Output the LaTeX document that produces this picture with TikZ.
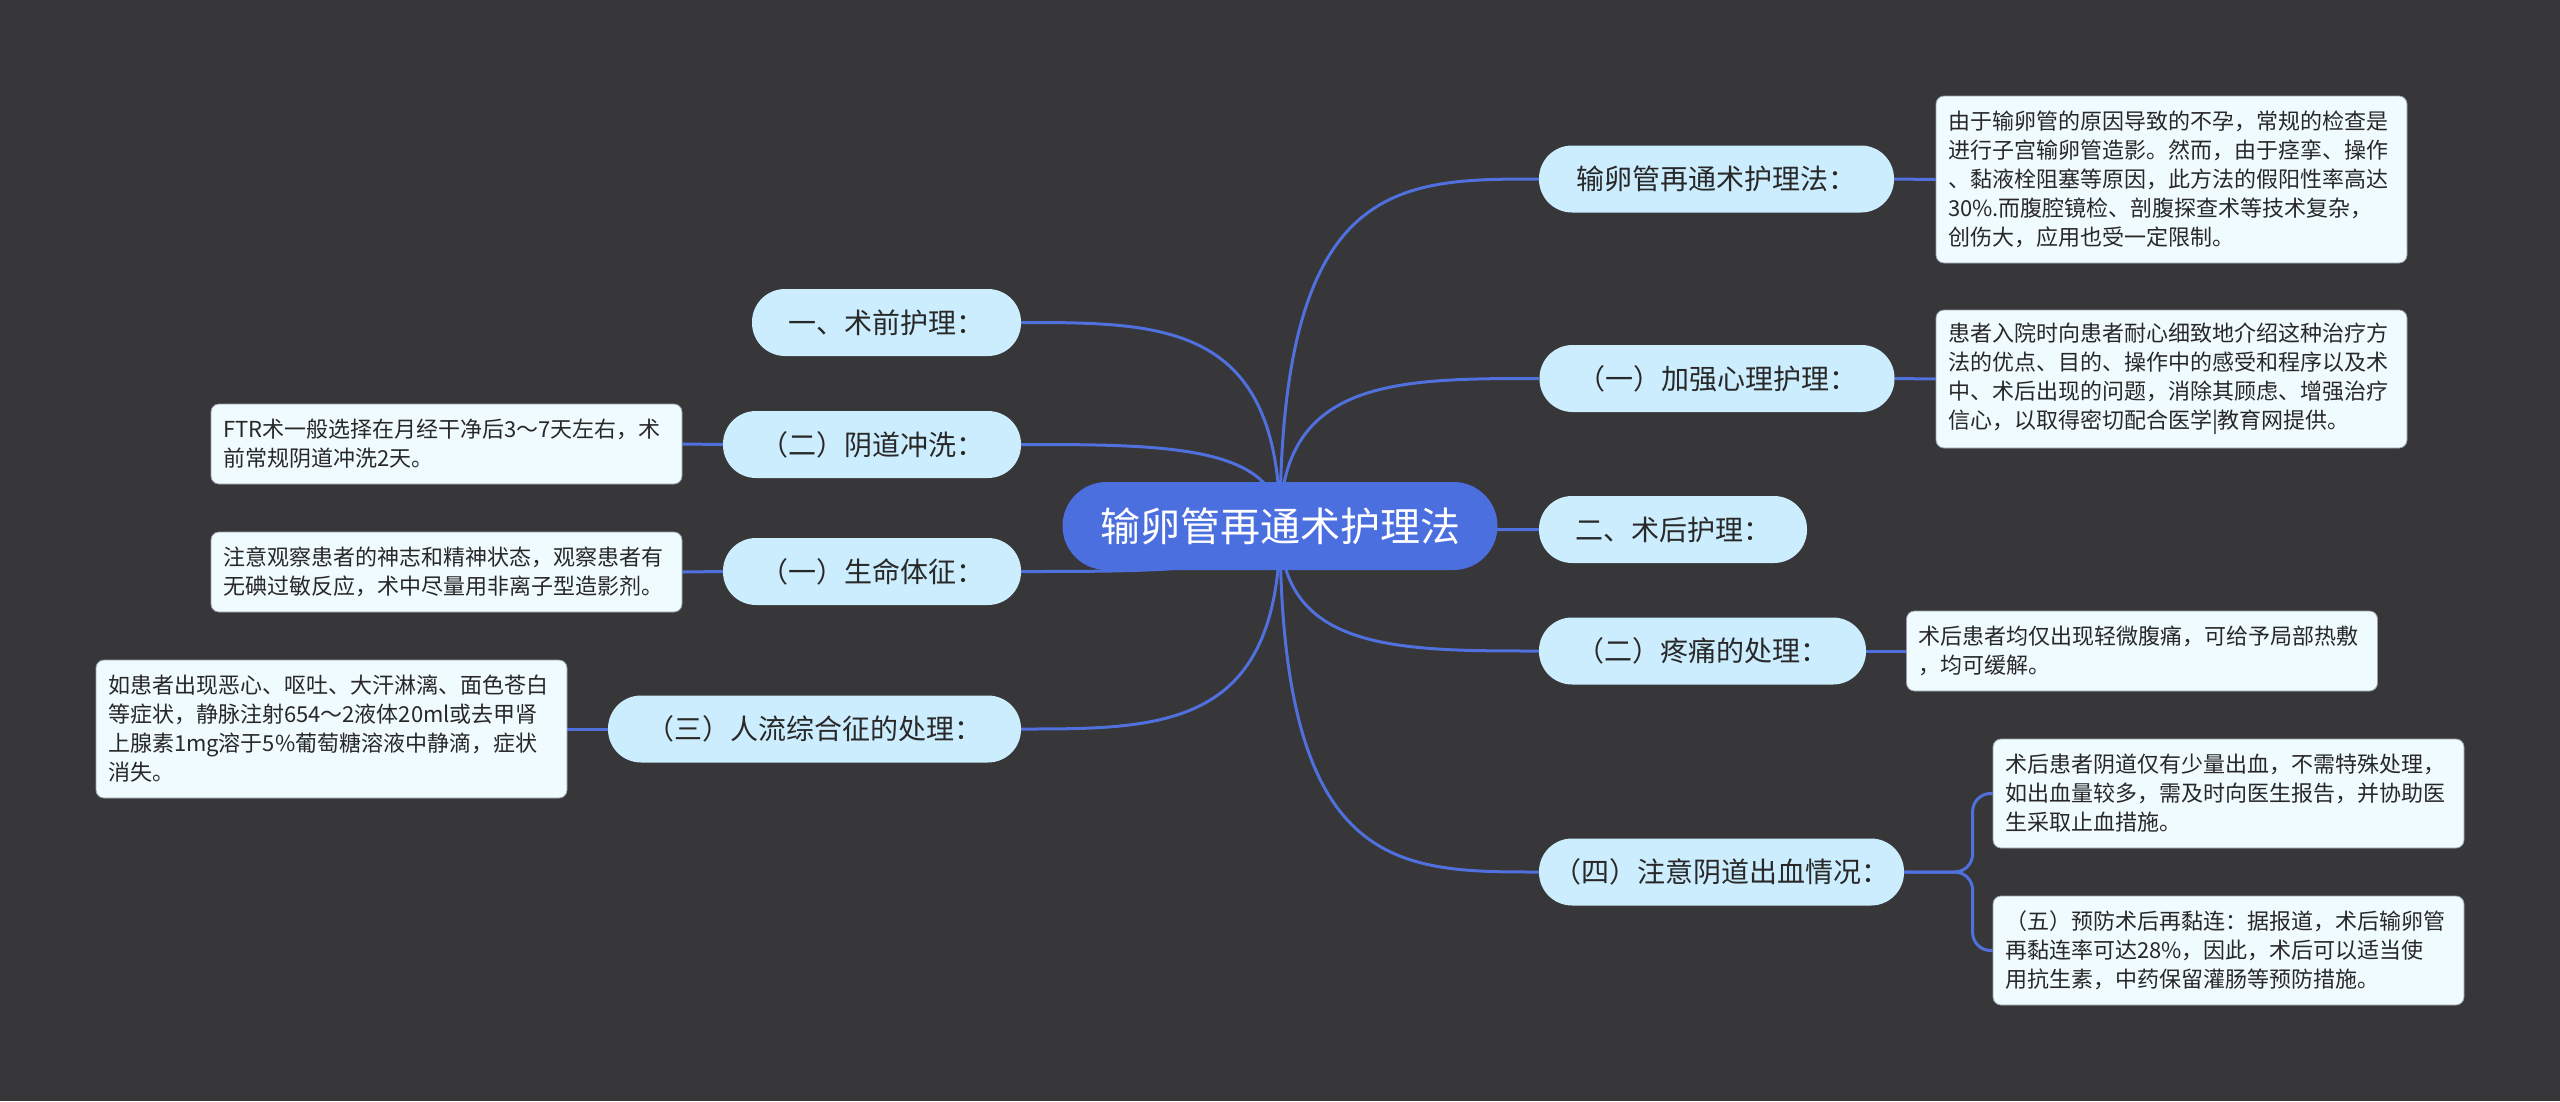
\documentclass[tikz,border=0pt]{standalone}
\usepackage{fontspec}
\newfontfamily\cjk{Noto Sans CJK SC}
\usetikzlibrary{calc}
\definecolor{bgc}{RGB}{55,54,56}
\definecolor{rootc}{RGB}{76,111,224}
\definecolor{linec}{RGB}{80,112,222}
\definecolor{topc}{RGB}{204,237,253}
\definecolor{leafc}{RGB}{240,251,255}
\definecolor{leafedge}{RGB}{150,160,170}
\definecolor{txt}{RGB}{40,40,40}
\pgfdeclarelayer{bglayer}
\pgfdeclarelayer{edgelayer}
\pgfsetlayers{bglayer,edgelayer,main}
\begin{document}
\begin{tikzpicture}[x=1pt,y=-1pt,
  rootbox/.style={fill=rootc, rounded corners=44pt, minimum width=435pt, minimum height=88pt, text=white, font=\cjk\fontsize{40}{48}\selectfont, inner sep=0pt},
  topicbox/.style={fill=topc, rounded corners=33pt, minimum height=67pt, text=txt, font=\cjk\fontsize{28}{34}\selectfont, inner sep=0pt},
  leafbox/.style={fill=leafc, draw=leafedge, line width=0.8pt, rounded corners=8pt, text width=447pt, align=left, inner xsep=12pt, inner ysep=0pt, text=txt, font=\cjk\fontsize{22}{29}\selectfont},
  conn/.style={draw=linec, line width=3pt}]
\useasboundingbox (0,0) rectangle (2560,1101);
\begin{pgfonlayer}{bglayer}
\fill[bgc] (0,0) rectangle (2560,1101);
\end{pgfonlayer}

% root
\node[rootbox] (root) at (1280,526) {输卵管再通术护理法};

% right topics
\node[topicbox, minimum width=355pt] (n1) at (1716.5,179) {输卵管再通术护理法：};
\node[topicbox, minimum width=355pt] (n2) at (1717,378.5) {（一）加强心理护理：};
\node[topicbox, minimum width=268pt] (n3) at (1673,529.5) {二、术后护理：};
\node[topicbox, minimum width=327pt] (n4) at (1702.5,651) {（二）疼痛的处理：};
\node[topicbox, minimum width=365pt] (n5) at (1721.5,872) {（四）注意阴道出血情况：};

% left topics
\node[topicbox, minimum width=269pt] (n6) at (886.5,322.5) {一、术前护理：};
\node[topicbox, minimum width=298pt] (n7) at (872,444.5) {（二）阴道冲洗：};
\node[topicbox, minimum width=298pt] (n8) at (872,571.5) {（一）生命体征：};
\node[topicbox, minimum width=413pt] (n9) at (814.5,729) {（三）人流综合征的处理：};

% leaves right
\node[leafbox, minimum height=167pt] (la) at (2171.5,179.5) {由于输卵管的原因导致的不孕，常规的检查是\\进行子宫输卵管造影。然而，由于痉挛、操作\\、黏液栓阻塞等原因，此方法的假阳性率高达\\30\%.而腹腔镜检、剖腹探查术等技术复杂，\\创伤大，应用也受一定限制。};
\node[leafbox, minimum height=138pt] (lb) at (2171.5,379) {患者入院时向患者耐心细致地介绍这种治疗方\\法的优点、目的、操作中的感受和程序以及术\\中、术后出现的问题，消除其顾虑、增强治疗\\信心，以取得密切配合医学|教育网提供。};
\node[leafbox, minimum height=80pt] (lc) at (2142,651) {术后患者均仅出现轻微腹痛，可给予局部热敷\\，均可缓解。};
\node[leafbox, minimum height=109pt] (ld) at (2228.5,793.5) {术后患者阴道仅有少量出血，不需特殊处理，\\如出血量较多，需及时向医生报告，并协助医\\生采取止血措施。};
\node[leafbox, minimum height=109pt] (le) at (2228.5,950.5) {（五）预防术后再黏连：据报道，术后输卵管\\再黏连率可达28\%，因此，术后可以适当使\\用抗生素，中药保留灌肠等预防措施。};

% leaves left
\node[leafbox, minimum height=80pt] (lf) at (446.5,444) {FTR术一般选择在月经干净后3～7天左右，术\\前常规阴道冲洗2天。};
\node[leafbox, minimum height=80pt] (lg) at (446.5,572) {注意观察患者的神志和精神状态，观察患者有\\无碘过敏反应，术中尽量用非离子型造影剂。};
\node[leafbox, minimum height=138pt] (lh) at (331.5,729) {如患者出现恶心、呕吐、大汗淋漓、面色苍白\\等症状，静脉注射654～2液体20ml或去甲肾\\上腺素1mg溶于5\%葡萄糖溶液中静滴，症状\\消失。};

\begin{pgfonlayer}{edgelayer}
% root to right topics
\foreach \t in {n1,n2,n3,n4,n5}{
  \draw[conn] (root.center) .. controls (root.center |- \t.west) and ($(root.center |- \t.west)!0.45!(\t.west)$) .. (\t.west);
}
% root to left topics
\foreach \t in {n6,n7,n8,n9}{
  \draw[conn] (root.center) .. controls (root.center |- \t.east) and ($(root.center |- \t.east)!0.45!(\t.east)$) .. (\t.east);
}
% topics to leaves
\draw[conn] (n1.east) -- (la.west);
\draw[conn] (n2.east) -- (lb.west);
\draw[conn] (n4.east) -- (lc.west);
\draw[conn, rounded corners=18pt] (n5.east) -| ([xshift=-20pt]ld.west) -- (ld.west);
\draw[conn, rounded corners=18pt] (n5.east) -| ([xshift=-20pt]le.west) -- (le.west);
\draw[conn] (n7.west) -- (lf.east);
\draw[conn] (n8.west) -- (lg.east);
\draw[conn] (n9.west) -- (lh.east);
\end{pgfonlayer}
\end{tikzpicture}
\end{document}
